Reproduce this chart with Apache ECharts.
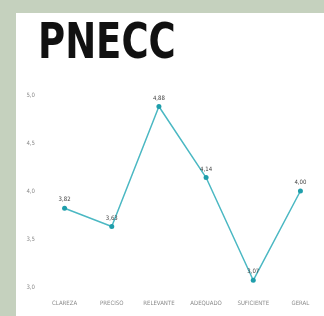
<!DOCTYPE html>
<html>
<head>
<meta charset="utf-8">
<script src="https://cdn.jsdelivr.net/npm/echarts@6/dist/echarts.min.js"></script>
<style>
  html, body { margin: 0; padding: 0; background: #c5d1be; }
  #chart { width: 324px; height: 316px; }
</style>
</head>
<body>
<div id="chart"></div>
<script>
// data
var categories = ["CLAREZA", "PRECISO", "RELEVANTE", "ADEQUADO", "SUFICIENTE", "GERAL"];
var scores = [3.82, 3.63, 4.88, 4.14, 3.07, 4.0];
var yTicks = { min: 3, max: 5, step: 0.5 };

var narrow = "'Liberation Sans Narrow', 'DejaVu Sans Condensed', sans-serif";

function comma(v, d) {
  return v.toFixed(d).replace(".", ",");
}

var chart = echarts.init(document.getElementById("chart"));
var option = {
  backgroundColor: "#c5d1be",
  animation: false,
  graphic: [
    {
      type: "rect",
      z: -10,
      shape: { x: 16, y: 13, width: 308, height: 303 },
      style: { fill: "#ffffff" },
    },
    {
      // title, squeezed horizontally like the condensed original
      type: "text",
      x: 38,
      y: 21,
      scaleX: 0.84,
      style: {
        text: "PNECC",
        font: "bold 49px " + narrow,
        fill: "#111111",
      },
    },
  ],
  grid: { left: 41, top: 95, width: 284, height: 192 },
  xAxis: {
    type: "category",
    data: categories,
    boundaryGap: true,
    axisLine: { show: false },
    axisTick: { show: false },
    axisLabel: {
      margin: 13,
      fontFamily: narrow,
      fontSize: 6,
      color: "#8a8a8a",
      interval: 0,
    },
  },
  yAxis: {
    type: "value",
    min: yTicks.min,
    max: yTicks.max,
    interval: yTicks.step,
    splitLine: { show: false },
    axisLine: { show: false },
    axisTick: { show: false },
    axisLabel: {
      margin: 6,
      fontFamily: narrow,
      fontSize: 6,
      color: "#8a8a8a",
      formatter: function (v) {
        return comma(v, 1);
      },
    },
  },
  series: [
    {
      type: "line",
      data: scores,
      symbol: "circle",
      symbolSize: 5,
      lineStyle: { color: "#4bb8c3", width: 1.5 },
      itemStyle: { color: "#1f9eab" },
      label: {
        show: true,
        position: "top",
        distance: 3,
        fontFamily: narrow,
        fontSize: 6,
        color: "#444444",
        formatter: function (p) {
          return comma(p.value, 2);
        },
      },
    },
  ],
};
chart.setOption(option);

window.addEventListener("resize", function () {
  chart.resize();
});
</script>
</body>
</html>
